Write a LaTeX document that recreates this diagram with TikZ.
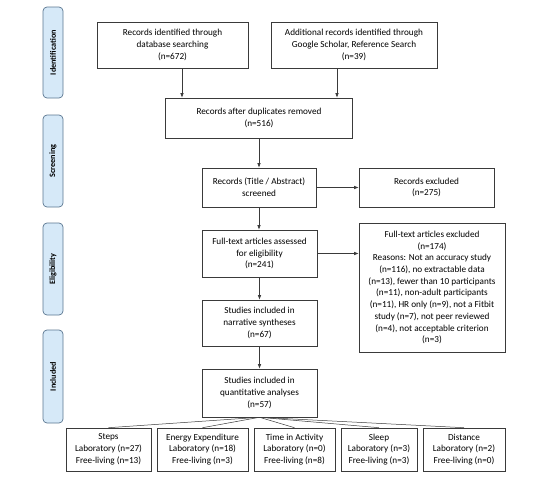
\documentclass[tikz,border=0pt]{standalone}
\usepackage{fontspec}
\setmainfont{Carlito}
\usetikzlibrary{arrows.meta}
\definecolor{tabfill}{HTML}{D6E9F8}
\definecolor{tabline}{HTML}{5A7690}
\definecolor{boxline}{HTML}{3A3A3A}

\tikzset{
  box/.style={draw=boxline, line width=0.6pt, align=center, inner sep=1pt,
    font=\fontsize{9.2}{11.7}\selectfont},
  phase/.style={draw=tabline, fill=tabfill, line width=0.7pt, rounded corners=4pt,
    rotate=90, minimum height=20pt, inner sep=0pt, font=\bfseries\fontsize{8.2}{9}\selectfont},
  arr/.style={-{Latex[length=4.5pt,width=3.5pt]}, line width=0.6pt, boxline},
  fan/.style={line width=0.5pt, boxline}
}

\begin{document}
\begin{tikzpicture}[x=1pt,y=-1pt]
      \useasboundingbox (0,0) rectangle (558,479);
      % phases
      \node[phase, minimum width=91pt] (tabid) at (53,52.5) {Identification};
      \node[phase, minimum width=92pt] (tabscr) at (53,161) {Screening};
      \node[phase, minimum width=92pt] (tabelig) at (53,269) {Eligibility};
      \node[phase, minimum width=93pt] (tabincl) at (53,376.5) {Included};
      % boxes
      \node[box, minimum width=151pt, minimum height=46pt] (srcdb) at (172.5,45)
        {Records identified through\\database searching\\(n=672)};
      \node[box, minimum width=166pt, minimum height=46pt] (srcgs) at (354,45)
        {Additional records identified through\\Google Scholar, Reference Search\\(n=39)};
      \node[box, minimum width=187pt, minimum height=40pt] (dedup) at (259,118)
        {Records after duplicates removed\\(n=516)};
      \node[box, minimum width=114pt, minimum height=39pt] (screen) at (259,187.5)
        {Records (Title / Abstract)\\screened};
      \node[box, minimum width=135pt, minimum height=39pt] (recexcl) at (426.5,187.5)
        {Records excluded\\(n=275)};
      \node[box, minimum width=115pt, minimum height=47pt] (fulltext) at (259.5,253.5)
        {Full-text articles assessed\\for eligibility\\(n=241)};
      \node[box, minimum width=146pt, minimum height=129pt] (ftexcl) at (432,287.5)
        {Full-text articles excluded\\(n=174)\\Reasons: Not an accuracy study\\(n=116), no extractable data\\(n=13), fewer than 10 participants\\(n=11), non-adult participants\\(n=11), HR only (n=9), not a Fitbit\\study (n=7), not peer reviewed\\(n=4), not acceptable criterion\\(n=3)};
      \node[box, minimum width=115pt, minimum height=46pt] (narr) at (259.5,323)
        {Studies included in\\narrative syntheses\\(n=67)};
      \node[box, minimum width=115pt, minimum height=48pt] (quant) at (259.5,393)
        {Studies included in\\quantitative analyses\\(n=57)};
      % outcome boxes
      \node[box, minimum width=85pt, minimum height=43pt] (steps) at (108.5,449.5)
        {Steps\\Laboratory (n=27)\\Free-living (n=13)};
      \node[box, minimum width=91pt, minimum height=43pt] (energy) at (202.5,449.5)
        {Energy Expenditure\\Laboratory (n=18)\\Free-living (n=3)};
      \node[box, minimum width=81pt, minimum height=43pt] (activity) at (294.5,449.5)
        {Time in Activity\\Laboratory (n=0)\\Free-living (n=8)};
      \node[box, minimum width=76pt, minimum height=43pt] (sleep) at (379,449.5)
        {Sleep\\Laboratory (n=3)\\Free-living (n=3)};
      \node[box, minimum width=82pt, minimum height=43pt] (distance) at (464,449.5)
        {Distance\\Laboratory (n=2)\\Free-living (n=0)};
      % arrows
      \draw[arr] ([xshift=9.5pt]srcdb.south) -- ([xshift=9.5pt]srcdb.south |- dedup.north);
      \draw[arr] ([xshift=-17pt]srcgs.south) -- ([xshift=-17pt]srcgs.south |- dedup.north);
      \draw[arr] (dedup) -- (screen);
      \draw[arr] (screen) -- (recexcl);
      \draw[arr] (screen.south) -- (screen.south |- fulltext.north);
      \draw[arr] (fulltext.east) -- (fulltext.east -| ftexcl.west);
      \draw[arr] (fulltext) -- (narr);
      \draw[arr] (narr) -- (quant);
      \foreach \o in {steps,energy,activity,sleep,distance}
        \draw[fan] (quant.south) -- (\o.north);
    \end{tikzpicture}
\end{document}
